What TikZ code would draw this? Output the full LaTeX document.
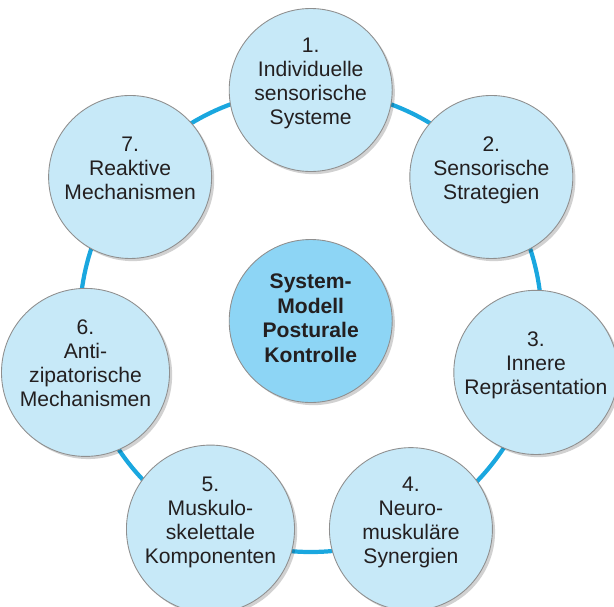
\documentclass[tikz,border=0pt]{standalone}
\usepackage{fontspec}
\setmainfont{Liberation Sans}
\usetikzlibrary{shadows}

\definecolor{ringblue}{HTML}{1AA7DF}
\definecolor{paleblue}{HTML}{C7E9F8}
\definecolor{modelblue}{HTML}{8DD5F5}
\definecolor{rimgray}{HTML}{8F8F8F}
\definecolor{inkgray}{HTML}{231F20}

\tikzset{
    station/.style={circle, draw=rimgray, line width=0.5pt, fill=paleblue,
                    minimum size=3.26cm, inner sep=0pt, align=center,
                    text=inkgray, text depth=0.36cm,
                    font=\fontsize{12}{13.7}\selectfont,
                    drop shadow={shadow xshift=1.5pt, shadow yshift=-1.5pt,
                                 opacity=0.18, fill=black}},
    hub/.style={station, fill=modelblue, text depth=0.12cm,
                font=\fontsize{12}{13.9}\selectfont\bfseries},
    ring/.style={draw=ringblue, line width=2.4pt}
}

\begin{document}
\begin{tikzpicture}
    \useasboundingbox (0,0) rectangle (12.28,-12.12);
    \clip (0,0) rectangle (12.28,-12.12);

    % Central model
    \coordinate (middle) at (6.214,-6.42);
    \draw[ring] (middle) circle (4.62cm);
    \node (model) [hub] at (middle)
          {System-\\Modell\\Posturale\\Kontrolle};

    % Seven components round the ring
    \foreach \n/\label in {1/{1.\\Individuelle\\sensorische\\Systeme},
                          2/{2.\\Sensorische\\Strategien},
                          3/{3.\\Innere\\Repräsentation},
                          4/{4.\\Neuro-\\muskuläre\\Synergien},
                          5/{5.\\Muskulo-\\skelettale\\Komponenten},
                          6/{6.\\Anti-\\zipatorische\\Mechanismen},
                          7/{7.\\Reaktive\\Mechanismen}}
        \node (comp\n) [station] at ([shift={({90-(\n-1)*360/7}:4.62)}]middle)
              {\label};
\end{tikzpicture}
\end{document}
